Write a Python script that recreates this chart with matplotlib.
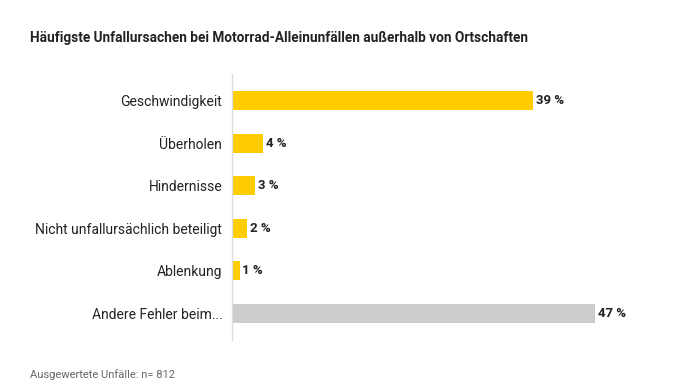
import matplotlib.pyplot as plt

### Data ###
categories = ["Geschwindigkeit", "Überholen", "Hindernisse",
              "Nicht unfallursächlich beteiligt", "Ablenkung", "Andere Fehler beim..."]
values = [39, 4, 3, 2, 1, 47]
colors = ["#ffcc00"] * 5 + ["#cccccc"]

plt.rcParams['font.family'] = ['Roboto', 'DejaVu Sans']

fig = plt.figure(figsize=(6.96, 3.92), dpi=100)
ax = fig.add_axes([232 / 696, 1 - 340 / 392, 386 / 696, 266 / 392])

ypos = list(range(len(values)))
ax.barh(ypos, values, height=0.44, color=colors)
ax.set_ylim(len(values) - 0.37, -0.63)
ax.set_xlim(0, 50)

for y, v in zip(ypos, values):
    ax.text(v + 0.35, y, f"{v} %", va='center', ha='left',
            fontsize=9.5, fontweight='bold', color='#222222')

ax.set_yticks(ypos)
ax.set_yticklabels(categories, fontsize=10, color='#222222')
ax.tick_params(axis='y', length=0, pad=7)
ax.set_xticks([])
for s in ['top', 'right', 'bottom']:
    ax.spines[s].set_visible(False)
ax.spines['left'].set_color('#dddddd')
ax.spines['left'].set_linewidth(1)

fig.text(30 / 696, 1 - 38 / 392, "Häufigste Unfallursachen bei Motorrad-Alleinunfällen außerhalb von Ortschaften",
         fontsize=9.8, fontweight='bold', color='#222222', va='center', ha='left')
fig.text(30 / 696, 1 - 375 / 392, "Ausgewertete Unfälle: n= 812",
         fontsize=8, color='#666666', va='center', ha='left')

fig.savefig("out.png", dpi=100)
